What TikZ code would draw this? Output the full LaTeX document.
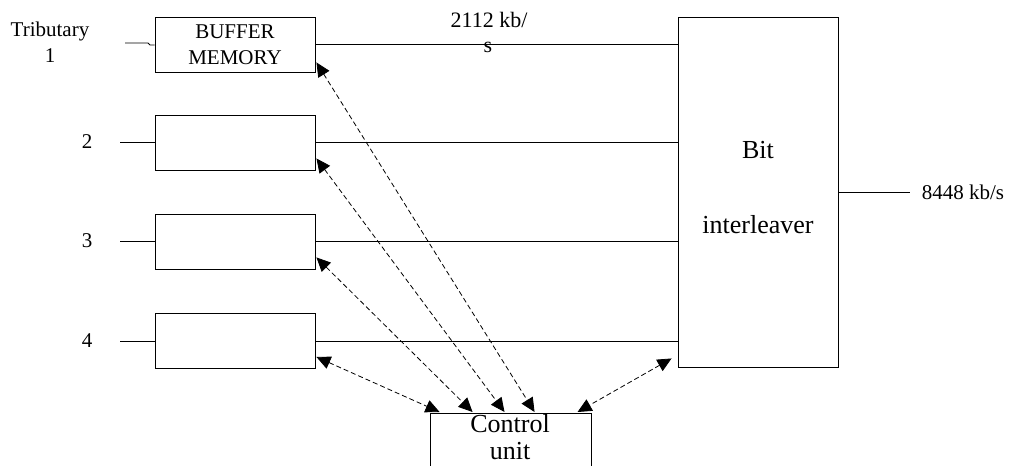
\documentclass[tikz,border=0pt]{standalone}
\usepackage{fontspec}
\setmainfont{Liberation Serif}
\usetikzlibrary{arrows.meta,calc}
\begin{document}
\begin{tikzpicture}[x=1pt,y=-1pt,
  every node/.style={font=\fontsize{21}{24}\selectfont, inner sep=0pt},
  buffer/.style={draw, line width=0.9pt, minimum width=160pt, minimum height=55pt, align=center, font=\fontsize{21}{26}\selectfont},
  bigbox/.style={draw, line width=0.9pt},
  wire/.style={line width=0.9pt},
  ctl/.style={line width=0.8pt, dash pattern=on 5pt off 3pt, {Triangle[length=14pt,width=13pt]}-{Triangle[length=14pt,width=13pt]}},
  bigtext/.style={font=\fontsize{26}{30}\selectfont}]
\clip (0,0) rectangle (1010,466);
\fill[white] (0,0) rectangle (1010,466);

% buffers
\node[buffer] (b1) at (235,44.5) {BUFFER\\MEMORY};
\node[buffer] (b2) at (235,142.5) {};
\node[buffer] (b3) at (235,241.5) {};
\node[buffer] (b4) at (235,341) {};

% interleaver
\node[bigbox, minimum width=160pt, minimum height=350pt] (il) at (758,192) {};
\node[bigtext] (bit) at (758,150) {Bit};
\node[bigtext] (ilv) at (758,225) {interleaver};

% control unit
\node[bigbox, minimum width=161pt, minimum height=80pt, anchor=north] (cu) at (510.5,413) {};
\node[bigtext, anchor=base] (cut1) at (510,432) {Control};
\node[bigtext, anchor=base] (cut2) at (510,459) {unit};

% labels
\node (tr) at (50,31) {Tributary};
\node (t1) at (50,56) {1};
\node (t2) at (87,142) {2};
\node (t3) at (87,241) {3};
\node (t4) at (87,341) {4};
\node[font=\fontsize{22}{24}\selectfont] (rate1) at (489,20) {2112 kb/};
\node[font=\fontsize{22}{24}\selectfont] (rate1s) at (488,47) {s};
\node (rate2) at (963,192) {8448 kb/s};

% input wires
\coordinate (i1) at (125,43);
\coordinate (i2) at (120,142.5);
\coordinate (i3) at (120,241.5);
\coordinate (i4) at (120,341);
\draw[wire] (i1) -- ++(23,0) -- ++(2,2) -- (b1.west |- 0,45);
\draw[wire] (i2) -- (b2.west);
\draw[wire] (i3) -- (b3.west);
\draw[wire] (i4) -- (b4.west);

% buffer to interleaver
\draw[wire] (b1.east) -- (b1.east -| il.west);
\draw[wire] (b2.east) -- (b2.east -| il.west);
\draw[wire] (b3.east) -- (b3.east -| il.west);
\draw[wire] (b4.east) -- (b4.east -| il.west);

% output
\coordinate (o) at (910,192);
\draw[wire] (il.east) -- (o);

% control arrows
\draw[ctl] ($(b1.south east)+(1,-10)$) -- ($(cu.north west)+(105,-1)$);
\draw[ctl] ($(b2.south east)+(1,-12)$) -- ($(cu.north west)+(75,-1)$);
\draw[ctl] ($(b3.south east)+(1,-12)$) -- ($(cu.north west)+(43,-1)$);
\draw[ctl] ($(b4.south east)+(1,-12)$) -- ($(cu.north west)+(10,-1)$);
\draw[ctl] ($(il.south west)+(-6,-9)$) -- ($(cu.north west)+(148,-1)$);
\end{tikzpicture}
\end{document}
